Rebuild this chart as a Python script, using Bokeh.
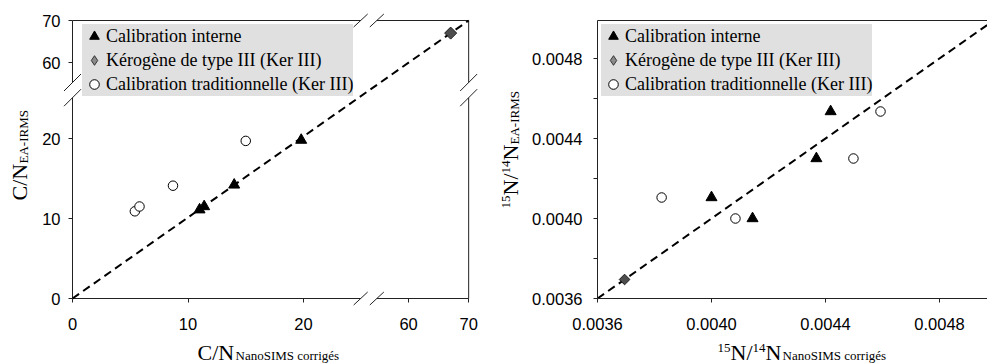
import numpy as np
from bokeh.plotting import figure
from bokeh.models import (Range1d, FixedTicker, Legend, LegendItem, Label,
                          LinearAxis, PrintfTickFormatter)
from bokeh.layouts import row
from bokeh.embed import file_html
from bokeh.resources import INLINE

# ---------------- data ----------------
# Left panel : C/N
cn_interne_nano = [11.0, 11.4, 14.0, 19.8]
cn_interne_irms = [11.1, 11.5, 14.2, 19.8]
cn_ker_nano = [67.0]
cn_ker_irms = [67.0]
cn_trad_nano = [5.4, 5.8, 8.7, 15.0]
cn_trad_irms = [10.9, 11.5, 14.1, 19.7]
cn_ticks = [0, 10, 20, 60, 70]
cn_tick_labels = ["0", "10", "20", "60", "70"]
cn_one_to_one = [0, 70]

# Right panel : 15N/14N
n_interne_nano = [0.00400, 0.004144, 0.004368, 0.004418]
n_interne_irms = [0.004105, 0.00400, 0.00430, 0.004535]
n_ker_nano = [0.003695]
n_ker_irms = [0.003695]
n_trad_nano = [0.003825, 0.004084, 0.004498, 0.004593]
n_trad_irms = [0.004105, 0.00400, 0.00430, 0.004535]
n_major_ticks = [0.0036, 0.0040, 0.0044, 0.0048]
n_minor_ticks_y = [0.0038, 0.0042, 0.0046]
n_axis_min = 0.0036
n_axis_top = 0.00499
n_one_to_one = [0.0036, 0.0050]

legend_labels = ["Calibration interne",
                 "Kérogène de type III (Ker III)",
                 "Calibration traditionnelle (Ker III)"]

SERIF = "Liberation Serif"
SANS = "Liberation Sans"
INK = "#222222"
H = 363


# ---------------- broken-axis scale for the left panel ----------------
def brk_x(v):
    v = np.asarray(v, dtype=float)
    return np.where(v <= 25, v, 29.1 + (v - 60) * 0.52)


def brk_y(v):
    v = np.asarray(v, dtype=float)
    return np.where(v <= 25, v, 29.5 + (v - 60) * 0.525)


PXX, PXY = 11.55, 8.0
XMAX = float(brk_x(70))
YMAX = float(brk_y(70))
X_GAP = (24.95, 26.35)
Y_GAP = (25.1, 27.0)


def style(p):
    p.outline_line_color = None
    p.xgrid.grid_line_color = None
    p.ygrid.grid_line_color = None
    p.background_fill_color = "white"
    p.border_fill_color = "white"


def add_text(p, px, py, text, size, rotated=False):
    """Place text with its baseline start at picture pixel (px, py) of this figure."""
    d = round(0.22 * size)  # the label box sits on its descent line
    if rotated:
        x, y, ang = px - d, H - py, np.pi / 2
    else:
        x, y, ang = px, H - py + d, 0.0
    p.add_layout(Label(x=x, y=y, x_units="screen", y_units="screen", text=text,
                       angle=ang, text_font=SERIF, text_font_size=f"{size}px",
                       text_baseline="alphabetic", text_align="left",
                       text_color="black"))


def axis_style(ax, standoff):
    ax.major_tick_line_color = INK
    ax.minor_tick_line_color = INK
    ax.major_tick_out = 4
    ax.major_tick_in = 0
    ax.minor_tick_out = 4
    ax.minor_tick_in = 0
    ax.major_label_text_font = SANS
    ax.major_label_text_font_size = "16.5px"
    ax.major_label_text_color = "black"
    ax.major_label_standoff = standoff


def make_legend(p, loc):
    nan = [np.nan]
    tri = p.scatter(x=nan, y=nan, marker="triangle", fill_color="black", line_color="black")
    dia = p.scatter(x=nan, y=nan, marker="diamond", fill_color="#8a8a8a", line_color="#333333")
    cir = p.scatter(x=nan, y=nan, marker="circle", fill_color="white", line_color="black")
    leg = Legend(items=[LegendItem(label=legend_labels[0], renderers=[tri]),
                        LegendItem(label=legend_labels[1], renderers=[dia]),
                        LegendItem(label=legend_labels[2], renderers=[cir])],
                 location=loc, background_fill_color="#e0e0e0", background_fill_alpha=1.0,
                 border_line_color=None, glyph_width=24, glyph_height=24, label_height=24,
                 spacing=0, padding=0, label_standoff=0, margin=0,
                 label_text_font=SERIF, label_text_font_size="18px", label_text_color="black")
    p.add_layout(leg)


# ---------------- left panel (frame spans the whole figure) ----------------
left = figure(width=490, height=H, output_backend="svg", toolbar_location=None,
              x_range=Range1d(-72 / PXX, (490 - 72) / PXX),
              y_range=Range1d(-(H - 298) / PXY, 298 / PXY),
              x_axis_location=None, y_axis_location=None, min_border=0)
style(left)

xt = [float(v) for v in brk_x(cn_ticks)]
yt = [float(v) for v in brk_y(cn_ticks)]
lx_axis = LinearAxis(fixed_location=0, bounds=(0, XMAX),
                     ticker=FixedTicker(ticks=xt, minor_ticks=[]),
                     major_label_overrides={t: s for t, s in zip(xt, cn_tick_labels)},
                     axis_line_color=None)
ly_axis = LinearAxis(fixed_location=0, bounds=(0, YMAX),
                     ticker=FixedTicker(ticks=yt, minor_ticks=[]),
                     major_label_overrides={t: s for t, s in zip(yt, cn_tick_labels)},
                     axis_line_color=None)
axis_style(lx_axis, 15)
axis_style(ly_axis, 8)
left.add_layout(lx_axis, "below")
left.add_layout(ly_axis, "left")

# frame with gaps (broken axes)
fx0 = [0, X_GAP[1], 0, X_GAP[1], 0, 0, XMAX, XMAX]
fx1 = [X_GAP[0], XMAX, X_GAP[0], XMAX, 0, 0, XMAX, XMAX]
fy0 = [0, 0, YMAX, YMAX, 0, Y_GAP[1], 0, Y_GAP[1]]
fy1 = [0, 0, YMAX, YMAX, Y_GAP[0], YMAX, Y_GAP[0], YMAX]
left.segment(fx0, fy0, fx1, fy1, line_color=INK, line_width=1)

# break marks
sx0, sy0, sx1, sy1 = [], [], [], []
dxh, dyh = 7 / PXX, 6.5 / PXY
for yy in (0, YMAX):
    for gx in X_GAP:
        sx0.append(gx - dxh); sy0.append(yy - dyh); sx1.append(gx + dxh); sy1.append(yy + dyh)
dxv, dyv = 8.5 / PXX, 8.5 / PXY
for xx in (0, XMAX):
    for gy in Y_GAP:
        sx0.append(xx - dxv); sy0.append(gy - dyv); sx1.append(xx + dxv); sy1.append(gy + dyv)
left.segment(sx0, sy0, sx1, sy1, line_color=INK, line_width=1)

left.line(brk_x(cn_one_to_one), brk_y(cn_one_to_one), line_color="black",
          line_width=2, line_dash="8 5")
left.scatter(brk_x(cn_trad_nano), brk_y(cn_trad_irms), marker="circle", size=9.5,
             fill_color="white", line_color="black", line_width=1)
left.scatter(brk_x(cn_ker_nano), brk_y(cn_ker_irms), marker="square", angle=np.pi / 4,
             size=8.5, fill_color="#4d4d4d", line_color="#1a1a1a")
left.scatter(brk_x(cn_interne_nano), brk_y(cn_interne_irms), marker="triangle", size=11,
             fill_color="black", line_color="black")
make_legend(left, (82, H - 96))

# axis titles (picture pixels of this figure)
add_text(left, 197, 357, "C/N", 22)
add_text(left, 235, 358, "NanoSIMS corrigés", 13)
add_text(left, 24, 200, "C/N", 22, rotated=True)
add_text(left, 26, 163, "EA-IRMS", 13, rotated=True)

# ---------------- right panel (frame spans the whole figure) ----------------
KX = 0.0004 / 114
KY = 0.0004 / 80
NX_END = n_axis_min + 390 * KX
right = figure(width=497, height=H, output_backend="svg", toolbar_location=None,
               x_range=Range1d(n_axis_min - 107 * KX, NX_END),
               y_range=Range1d(n_axis_min - (H - 298) * KY, n_axis_min + 298 * KY),
               x_axis_location=None, y_axis_location=None, min_border=0)
style(right)
rx_axis = LinearAxis(fixed_location=n_axis_min, bounds=(n_axis_min, NX_END),
                     ticker=FixedTicker(ticks=n_major_ticks, minor_ticks=[]),
                     formatter=PrintfTickFormatter(format="%.4f"), axis_line_color=INK)
ry_axis = LinearAxis(fixed_location=n_axis_min, bounds=(n_axis_min, n_axis_top),
                     ticker=FixedTicker(ticks=n_major_ticks, minor_ticks=n_minor_ticks_y),
                     formatter=PrintfTickFormatter(format="%.4f"), axis_line_color=INK)
axis_style(rx_axis, 15)
axis_style(ry_axis, 11)
top_axis = LinearAxis(fixed_location=n_axis_top, bounds=(n_axis_min, NX_END),
                      ticker=FixedTicker(ticks=[], minor_ticks=[]),
                      major_label_text_font_size="0px", axis_line_color=INK,
                      major_tick_line_color=None, minor_tick_line_color=None)
right.add_layout(rx_axis, "below")
right.add_layout(ry_axis, "left")
right.add_layout(top_axis, "above")

right.line(n_one_to_one, n_one_to_one, line_color="black", line_width=2, line_dash="8 5")
right.scatter(n_trad_nano, n_trad_irms, marker="circle", size=9.5,
              fill_color="white", line_color="black", line_width=1)
right.scatter(n_ker_nano, n_ker_irms, marker="square", angle=np.pi / 4, size=7.5,
              fill_color="#4d4d4d", line_color="#1a1a1a")
right.scatter(n_interne_nano, n_interne_irms, marker="triangle", size=11,
              fill_color="black", line_color="black")
make_legend(right, (111, H - 96))

# axis titles (picture pixels of this figure; figure starts at x=490)
add_text(right, 227, 350, "15", 13)
add_text(right, 240, 357, "N/", 22)
add_text(right, 262, 350, "14", 13)
add_text(right, 275, 357, "N", 22)
add_text(right, 292, 358, "NanoSIMS corrigés", 13)
add_text(right, 18, 208, "15", 13, rotated=True)
add_text(right, 25, 195, "N/", 22, rotated=True)
add_text(right, 18, 173, "14", 13, rotated=True)
add_text(right, 25, 160, "N", 22, rotated=True)
add_text(right, 27, 144, "EA-IRMS", 13, rotated=True)

layout = row(left, right)
open("out.html", "w").write(file_html(layout, INLINE))
